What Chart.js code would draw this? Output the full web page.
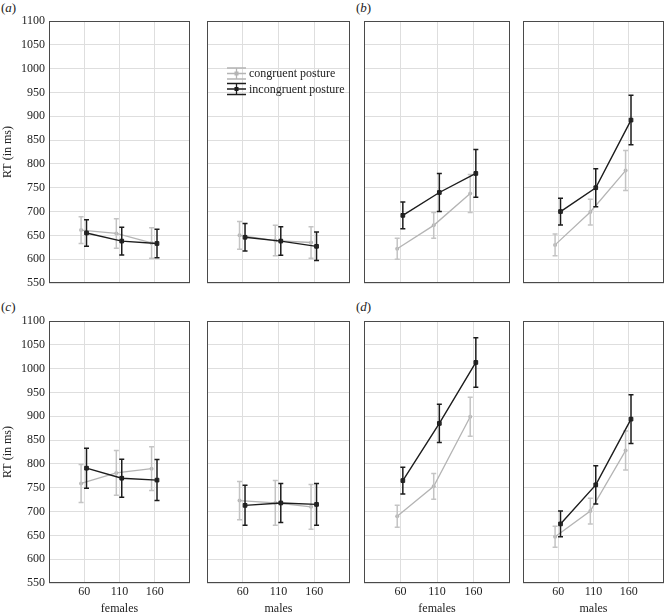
<!DOCTYPE html>
<html>
<head>
<meta charset="utf-8">
<script src="https://cdn.jsdelivr.net/npm/chart.js@4.4.0/dist/chart.umd.min.js"></script>
<style>
  body { margin: 0; background: #fff; }
  #wrap { position: relative; width: 669px; height: 616px; overflow: hidden; }
  #wrap canvas { position: absolute; }
  .tag { position: absolute; font-family: "Liberation Serif", "Times New Roman", "DejaVu Serif", serif; font-size: 13px; color: #222; }
</style>
</head>
<body>
<div id="wrap">
  <div class="tag" style="left:1px;top:0px">(<i>a</i>)</div>
  <div class="tag" style="left:356px;top:0px">(<i>b</i>)</div>
  <div class="tag" style="left:1px;top:299px">(<i>c</i>)</div>
  <div class="tag" style="left:356px;top:299px">(<i>d</i>)</div>
</div>
<script>
// stimulus durations on the x axis
const doses = [60, 110, 160];
const groups = ['females', 'males'];
const seriesNames = ['congruent posture', 'incongruent posture'];

// (a)
const aFemCong = [661, 654, 634];    const aFemCongErr = [28, 31, 32];
const aFemIncong = [655, 638, 633];  const aFemIncongErr = [28, 29, 30];
const aMalCong = [650, 639, 635];    const aMalCongErr = [29, 32, 33];
const aMalIncong = [646, 638, 627];  const aMalIncongErr = [29, 30, 30];
// (b)
const bFemCong = [622, 671, 738];    const bFemCongErr = [22, 27, 40];
const bFemIncong = [692, 740, 780];  const bFemIncongErr = [28, 40, 50];
const bMalCong = [630, 699, 786];    const bMalCongErr = [23, 27, 42];
const bMalIncong = [700, 750, 892];  const bMalIncongErr = [28, 40, 52];
// (c)
const cFemCong = [759, 781, 790];    const cFemCongErr = [40, 47, 46];
const cFemIncong = [791, 770, 766];  const cFemIncongErr = [42, 40, 43];
const cMalCong = [723, 718, 710];    const cMalCongErr = [40, 47, 47];
const cMalIncong = [713, 718, 715];  const cMalIncongErr = [42, 41, 44];
// (d)
const dFemCong = [690, 753, 899];    const dFemCongErr = [23, 27, 41];
const dFemIncong = [765, 885, 1013]; const dFemIncongErr = [28, 40, 52];
const dMalCong = [647, 701, 828];    const dMalCongErr = [22, 27, 41];
const dMalIncong = [674, 756, 894];  const dMalIncongErr = [27, 40, 51];

const panels = [
  { row: 0, col: 0, cong: aFemCong, congErr: aFemCongErr, inc: aFemIncong, incErr: aFemIncongErr },
  { row: 0, col: 1, cong: aMalCong, congErr: aMalCongErr, inc: aMalIncong, incErr: aMalIncongErr, legend: true },
  { row: 0, col: 2, cong: bFemCong, congErr: bFemCongErr, inc: bFemIncong, incErr: bFemIncongErr },
  { row: 0, col: 3, cong: bMalCong, congErr: bMalCongErr, inc: bMalIncong, incErr: bMalIncongErr },
  { row: 1, col: 0, cong: cFemCong, congErr: cFemCongErr, inc: cFemIncong, incErr: cFemIncongErr },
  { row: 1, col: 1, cong: cMalCong, congErr: cMalCongErr, inc: cMalIncong, incErr: cMalIncongErr },
  { row: 1, col: 2, cong: dFemCong, congErr: dFemCongErr, inc: dFemIncong, incErr: dFemIncongErr },
  { row: 1, col: 3, cong: dMalCong, congErr: dMalCongErr, inc: dMalIncong, incErr: dMalIncongErr }
];

const cols = [
  { left: 0,   width: 195, yw: 49, pr: 2 },
  { left: 195, width: 160, yw: 12, pr: 2 },
  { left: 355, width: 160, yw: 9,  pr: 5 },
  { left: 515, width: 154, yw: 8,  pr: 2 }
];
const rows = [
  { top: 0,   height: 300, xh: 17 },
  { top: 300, height: 316, xh: 33 }
];

const GRAY = '#b4b4b4';
const BLACK = '#1c1c1c';
const SERIF = '"Liberation Serif", "Times New Roman", "DejaVu Serif", serif';

Chart.defaults.font.family = SERIF;
Chart.defaults.font.size = 12;
Chart.defaults.color = '#222';

// error bars drawn through the chart's own scales
const errorBars = {
  id: 'errorBars',
  afterDatasetDraw(chart, args) {
    const ds = chart.data.datasets[args.index];
    if (!ds.errors) return;
    const { ctx, scales } = chart;
    ctx.save();
    ctx.strokeStyle = ds.barColor;
    ctx.lineWidth = 1.5;
    ds.data.forEach((p, i) => {
      const x = scales.x.getPixelForValue(p.x);
      const y1 = scales.y.getPixelForValue(p.y + ds.errors[i]);
      const y2 = scales.y.getPixelForValue(p.y - ds.errors[i]);
      ctx.beginPath();
      ctx.moveTo(x, y1); ctx.lineTo(x, y2);
      ctx.moveTo(x - 2.5, y1); ctx.lineTo(x + 2.5, y1);
      ctx.moveTo(x - 2.5, y2); ctx.lineTo(x + 2.5, y2);
      ctx.stroke();
    });
    ctx.restore();
  }
};

const frame = {
  id: 'frame',
  afterDraw(chart) {
    const { ctx, chartArea: a } = chart;
    ctx.save();
    ctx.strokeStyle = '#4a4a4a';
    ctx.lineWidth = 1;
    ctx.strokeRect(Math.round(a.left) + 0.5, Math.round(a.top) + 0.5,
                   Math.round(a.right - a.left) - 1, Math.round(a.bottom - a.top) - 1);
    ctx.restore();
  }
};

const legendBox = {
  id: 'legendBox',
  afterDraw(chart, args, opts) {
    if (!opts.show) return;
    const { ctx, chartArea: a } = chart;
    const x0 = a.left + 20, w = 19;
    const colors = [GRAY, BLACK];
    ctx.save();
    ctx.font = '12px ' + SERIF;
    ctx.textBaseline = 'middle';
    seriesNames.forEach((name, i) => {
      const yc = a.top + 52.5 + i * 15.5;
      ctx.strokeStyle = colors[i];
      ctx.lineWidth = 1.3;
      ctx.beginPath();
      ctx.moveTo(x0, yc - 5.5); ctx.lineTo(x0 + w, yc - 5.5);
      ctx.moveTo(x0, yc + 5.5); ctx.lineTo(x0 + w, yc + 5.5);
      ctx.moveTo(x0, yc); ctx.lineTo(x0 + w, yc);
      ctx.moveTo(x0 + w / 2, yc - 5.5); ctx.lineTo(x0 + w / 2, yc + 5.5);
      ctx.stroke();
      ctx.fillStyle = colors[i];
      ctx.fillRect(x0 + w / 2 - 2, yc - 2, 4, 4);
      ctx.fillStyle = '#222';
      ctx.fillText(name, x0 + w + 3, yc + 0.5);
    });
    ctx.restore();
  }
};

const wrap = document.getElementById('wrap');

panels.forEach(p => {
  const c = cols[p.col], r = rows[p.row];
  const canvas = document.createElement('canvas');
  canvas.width = c.width;
  canvas.height = r.height;
  canvas.style.left = c.left + 'px';
  canvas.style.top = r.top + 'px';
  wrap.appendChild(canvas);

  const leftCol = p.col === 0;
  const bottomRow = p.row === 1;
  const groupName = groups[p.col % 2];

  new Chart(canvas.getContext('2d'), {
    type: 'line',
    data: {
      datasets: [
        {
          label: seriesNames[1],
          data: doses.map((d, i) => ({ x: d + 3.2, y: p.inc[i] })),
          errors: p.incErr,
          barColor: BLACK,
          borderColor: BLACK,
          backgroundColor: BLACK,
          borderWidth: 1.4,
          pointStyle: 'rect',
          pointRadius: 2.6,
          pointBorderWidth: 1,
          pointBackgroundColor: '#333',
          order: 1
        },
        {
          label: seriesNames[0],
          data: doses.map((d, i) => ({ x: d - 4.5, y: p.cong[i] })),
          errors: p.congErr,
          barColor: '#c4c4c4',
          borderColor: GRAY,
          backgroundColor: GRAY,
          borderWidth: 1.3,
          pointStyle: 'circle',
          pointRadius: 2,
          pointBorderWidth: 0,
          order: 2
        }
      ]
    },
    options: {
      responsive: false,
      animation: false,
      events: [],
      layout: { padding: { top: 21, right: c.pr, bottom: 0, left: 0 } },
      plugins: {
        legend: { display: false },
        tooltip: { enabled: false },
        legendBox: { show: !!p.legend }
      },
      scales: {
        x: {
          type: 'linear',
          min: 10,
          max: 210,
          afterBuildTicks: s => { s.ticks = doses.map(v => ({ value: v })); },
          afterFit: s => { s.height = r.xh; },
          grid: { color: '#dedede', drawTicks: false, lineWidth: 1 },
          border: { display: false },
          ticks: { display: bottomRow, padding: 2, color: '#222', font: { size: 12 }, callback: v => String(v) },
          title: {
            display: bottomRow,
            text: groupName,
            padding: { top: 0, bottom: 0 },
            color: '#222',
            font: { size: 12 }
          }
        },
        y: {
          min: 550,
          max: 1100,
          ticks: { stepSize: 50, display: leftCol, padding: 4, color: '#222', font: { size: 12 }, callback: v => String(v) },
          afterFit: s => { s.width = c.yw; },
          grid: { color: '#dedede', drawTicks: false, lineWidth: 1 },
          border: { display: false },
          title: {
            display: leftCol,
            text: 'RT (in ms)',
            padding: { top: 1, bottom: 4 },
            color: '#222',
            font: { size: 12 }
          }
        }
      }
    },
    plugins: [errorBars, frame, legendBox]
  });
});
</script>
</body>
</html>
